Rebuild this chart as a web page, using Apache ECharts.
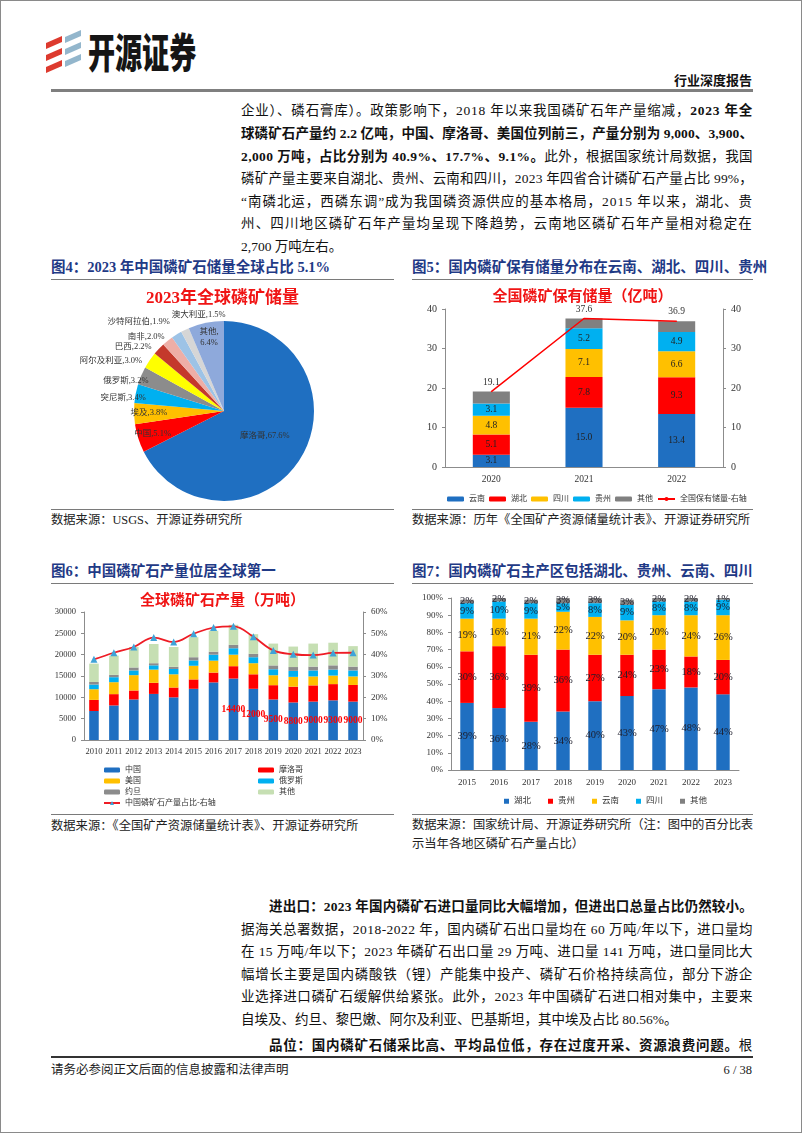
<!DOCTYPE html>
<html><head><meta charset="utf-8">
<script src="https://cdn.jsdelivr.net/npm/echarts@6/dist/echarts.min.js"></script>
<style>
html,body{margin:0;padding:0;background:#fff;}
#page{position:relative;width:802px;height:1133px;box-sizing:border-box;border:1px solid #8a8a8a;overflow:hidden;font-family:"Liberation Serif","Noto Sans CJK SC",serif;color:#111;background:#fff;}
.ln{position:absolute;left:240px;width:512px;height:20px;line-height:20px;font-size:13.5px;white-space:nowrap;}
.ln span{display:inline-block;}
.ftitle{position:absolute;font-size:14.5px;font-weight:bold;color:#1F3A86;white-space:nowrap;line-height:18px;}
.rule{position:absolute;height:1px;background:#7a7a7a;}
.src{position:absolute;font-size:12.3px;color:#222;white-space:nowrap;line-height:18px;}
.src span{display:inline-block;}
.chart{position:absolute;}
</style></head>
<body>
<div id="page">
  <svg class="chart" style="left:43px;top:26px" width="40" height="48">
    <g fill="#DD3A2E">
      <polygon points="2,16 18,9 18,15 2,22"/>
      <polygon points="2,28 18,21 18,27 2,34"/>
      <polygon points="2,40 18,33 18,39 2,46"/>
    </g>
    <g fill="#93B6CC">
      <polygon points="21,10 37,3 37,9 21,16"/>
      <polygon points="21,22 37,15 37,21 21,28"/>
      <polygon points="21,34 37,27 37,33 21,40"/>
    </g>
  </svg>
  <div style="position:absolute;left:87px;top:24px;font-family:'Noto Sans CJK SC';font-weight:900;font-size:41px;line-height:50px;color:#151515;transform:scaleX(0.66);transform-origin:0 50%;white-space:nowrap;">开源证券</div>
  <div style="position:absolute;right:49px;top:71px;font-family:'Noto Sans CJK SC';font-weight:bold;font-size:13px;line-height:16px;color:#111;">行业深度报告</div>
  <div style="position:absolute;left:50px;width:702px;top:88px;height:3px;background:#7f7f7f;"></div>

  <div class="ln j" style="top:100px"><span>企业）、磷石膏库）。政策影响下，2018 年以来我国磷矿石年产量缩减，<b>2023 年全</b></span></div>
  <div class="ln j" style="top:123px"><span><b>球磷矿石产量约 2.2 亿吨，中国、摩洛哥、美国位列前三，产量分别为 9,000、3,900、</b></span></div>
  <div class="ln j" style="top:146px"><span><b>2,000 万吨，占比分别为 40.9%、17.7%、9.1%。</b>此外，根据国家统计局数据，我国</span></div>
  <div class="ln j" style="top:168px"><span>磷矿产量主要来自湖北、贵州、云南和四川，2023 年四省合计磷矿石产量占比 99%，</span></div>
  <div class="ln j" style="top:191px"><span>“南磷北运，西磷东调”成为我国磷资源供应的基本格局，2015 年以来，湖北、贵</span></div>
  <div class="ln j" style="top:213px"><span>州、四川地区磷矿石年产量均呈现下降趋势，云南地区磷矿石年产量相对稳定在</span></div>
  <div class="ln" style="top:236px"><span>2,700 万吨左右。</span></div>

  <div class="ftitle" style="left:50px;top:257px">图4：2023 年中国磷矿石储量全球占比 5.1%</div>
  <div class="ftitle" style="left:411px;top:257px">图5：国内磷矿保有储量分布在云南、湖北、四川、贵州</div>
  <div class="rule" style="left:50px;width:343px;top:278px"></div>
  <div class="rule" style="left:411px;width:341px;top:278px"></div>
  <div id="c4" class="chart" style="left:50px;top:282px;width:343px;height:224px"></div>
  <div id="c5" class="chart" style="left:411px;top:282px;width:341px;height:224px"></div>
  <div class="rule" style="left:50px;width:343px;top:508px"></div>
  <div class="rule" style="left:411px;width:341px;top:508px"></div>
  <div class="src" style="left:50px;top:510px">数据来源：USGS、开源证券研究所</div>
  <div class="src" style="left:411px;top:510px">数据来源：历年《全国矿产资源储量统计表》、开源证券研究所</div>

  <div class="ftitle" style="left:50px;top:561px">图6：中国磷矿石产量位居全球第一</div>
  <div class="ftitle" style="left:411px;top:561px">图7：国内磷矿石主产区包括湖北、贵州、云南、四川</div>
  <div class="rule" style="left:50px;width:343px;top:582px"></div>
  <div class="rule" style="left:411px;width:341px;top:582px"></div>
  <div id="c6" class="chart" style="left:50px;top:586px;width:343px;height:226px"></div>
  <div id="c7" class="chart" style="left:411px;top:586px;width:341px;height:226px"></div>
  <div class="rule" style="left:50px;width:343px;top:813px"></div>
  <div class="rule" style="left:411px;width:341px;top:813px"></div>
  <div class="src" style="left:50px;top:816px">数据来源：《全国矿产资源储量统计表》、开源证券研究所</div>
  <div class="src jw" style="left:411px;top:815px;width:341px"><span>数据来源：国家统计局、开源证券研究所（注：图中的百分比表</span></div>
  <div class="src" style="left:411px;top:834px">示当年各地区磷矿石产量占比）</div>

  <div class="ln j" style="top:896px;left:268px;width:484px"><span><b>进出口：2023 年国内磷矿石进口量同比大幅增加，但进出口总量占比仍然较小。</b></span></div>
  <div class="ln j" style="top:919px"><span>据海关总署数据，2018-2022 年，国内磷矿石出口量均在 60 万吨/年以下，进口量均</span></div>
  <div class="ln j" style="top:941px"><span>在 15 万吨/年以下；2023 年磷矿石出口量 29 万吨、进口量 141 万吨，进口量同比大</span></div>
  <div class="ln j" style="top:964px"><span>幅增长主要是国内磷酸铁（锂）产能集中投产、磷矿石价格持续高位，部分下游企</span></div>
  <div class="ln j" style="top:986px"><span>业选择进口磷矿石缓解供给紧张。此外，2023 年中国磷矿石进口相对集中，主要来</span></div>
  <div class="ln" style="top:1009px"><span>自埃及、约旦、黎巴嫩、阿尔及利亚、巴基斯坦，其中埃及占比 80.56%。</span></div>
  <div class="ln j" style="top:1035px;left:268px;width:484px"><span><b>品位：国内磷矿石储采比高、平均品位低，存在过度开采、资源浪费问题。</b>根</span></div>

  <div style="position:absolute;left:50px;width:702px;top:1055px;height:2px;background:#333;"></div>
  <div class="src" style="left:50px;top:1060px;font-size:12.5px">请务必参阅正文后面的信息披露和法律声明</div>
  <div class="src" style="right:49px;top:1060px;font-size:12.5px">6 / 38</div>
</div>
<script>
// ---------- Figure 4 data ----------
const pieNames = ['摩洛哥','中国','埃及','突尼斯','俄罗斯','阿尔及利亚','巴西','南非','沙特阿拉伯','澳大利亚','其他'];
const pieShares = [67.6,5.1,3.8,3.4,3.2,3.0,2.2,2.0,1.9,1.5,6.4];
// ---------- Figure 5 data ----------
const resYears = ['2020','2021','2022'];
const resYunnan = [3.1,15.0,13.4];
const resHubei = [5.1,7.8,9.3];
const resSichuan = [4.8,7.1,6.6];
const resGuizhou = [3.1,5.2,4.9];
const resOther = [3.0,2.5,2.7];
const resTotal = [19.1,37.6,36.9];
// ---------- Figure 6 data ----------
const prodYears = ['2010','2011','2012','2013','2014','2015','2016','2017','2018','2019','2020','2021','2022','2023'];
const prodChina = [6800,8100,9500,10800,10000,12000,13500,14400,12000,9500,8800,9000,9300,9000];
const prodMorocco = [2600,2650,2100,2600,2300,2200,2300,2900,3400,3350,3700,3800,3800,3900];
const prodUSA = [2500,2800,3600,3100,3100,3200,2800,2700,2600,2330,2300,2100,2000,2000];
const prodRussia = [1100,1170,1100,1000,1250,1250,1400,1500,1400,1400,1400,1400,1400,1400];
const prodJordan = [600,550,700,500,500,750,700,800,800,900,900,900,1000,900];
const prodOther = [4300,4520,4800,4500,4650,4700,4900,4700,4600,5120,4800,5400,5300,4800];
const prodShare = [37.8,40.9,43.6,48.0,45.9,49.8,52.7,53.3,48.4,42.0,40.2,39.8,40.8,40.9];
const prodLabelYears = ['2017','2018','2019','2020','2021','2022','2023'];
// ---------- Figure 7 data ----------
const shareYears = ['2015','2016','2017','2018','2019','2020','2021','2022','2023'];
const shareHubei = [39,36,28,34,40,43,47,48,44];
const shareGuizhou = [30,36,39,36,27,24,23,18,20];
const shareYunnan = [19,16,21,22,22,20,20,24,26];
const shareSichuan = [9,10,9,5,8,9,8,8,9];
const shareOther = [2,2,2,3,3,3,2,2,1];

// ---------- styles ----------
const FF = '"Liberation Serif","Noto Sans CJK SC",serif';
const BLUE='#1F6FC1', RED='#FF0000', ORANGE='#FFC000', CYAN='#00B0F0', GRAY='#808080';
const pieColors = ['#1F6FC1','#FF0000','#FFC000','#00B0F0','#8C8C8C','#FFFF00','#C4392C','#EEAEA6','#9DC3E6','#D6D6D6','#8EA9DB'];
const pieLabelMode = ['in','ring','ring','out','out','out','out','out','out','out','ring'];
const pieLabelNudge = [[0,0],[0,0],[0,0],[18,5],[15,6],[0,2],[0,0],[4,-2],[0,-10],[47,-12],[0,0]];
const axisLineStyle = {show:true, lineStyle:{color:'#8c8c8c', width:1}};
const axisLab = (fs, fmt) => ({color:'#333', fontSize:fs, fontFamily:FF, formatter:fmt || (v=>String(v))});

function pieLabelText(i){
  const v = pieShares[i].toFixed(1)+'%';
  return pieNames[i] === '其他' ? pieNames[i]+',\n'+v : pieNames[i]+','+v;
}

// Figure 4
const c4 = echarts.init(document.getElementById('c4'));
c4.setOption({
  animation:false,
  textStyle:{fontFamily:FF},
  title:{text:'2023年全球磷矿储量', left:'center', top:2, textStyle:{color:'#F01414', fontSize:17, fontWeight:'bold', fontFamily:FF}},
  series:[
    {type:'pie', center:[173,128], radius:90, startAngle:90, clockwise:true, avoidLabelOverlap:false,
     labelLine:{show:false, length:3, length2:0},
     labelLayout: p => ({dx: pieLabelNudge[p.dataIndex][0], dy: pieLabelNudge[p.dataIndex][1], hideOverlap:false}),
     data: pieNames.map((n,i)=>({name:n, value:pieShares[i], itemStyle:{color:pieColors[i]},
       label:{show: pieLabelMode[i]!=='ring', position: pieLabelMode[i]==='in'?'inside':'outside',
              formatter: ()=>pieLabelText(i), color:'#333', fontSize:8.5, fontFamily:FF}}))
    },
    {type:'pie', center:[173,128], radius:[52,92], startAngle:90, clockwise:true, silent:true, avoidLabelOverlap:false,
     labelLine:{show:false},
     labelLayout: {hideOverlap:false},
     data: pieNames.map((n,i)=>({name:n, value:pieShares[i], itemStyle:{color:'rgba(0,0,0,0)'},
       label:{show: pieLabelMode[i]==='ring', position:'inside', formatter: ()=>pieLabelText(i), color:'#333', fontSize:8.5, fontFamily:FF, lineHeight:11}}))
    }
  ]
});

// Figure 5
const c5 = echarts.init(document.getElementById('c5'));
const barLab5 = {show:true, position:'inside', color:'#222', fontSize:9.5, fontFamily:FF, formatter:p=>Number(p.value).toFixed(1)};
c5.setOption({
  animation:false,
  textStyle:{fontFamily:FF},
  title:{text:'全国磷矿保有储量（亿吨）', left:'center', top:2, textStyle:{color:'#F01414', fontSize:15, fontWeight:'bold', fontFamily:FF}},
  grid:{left:33, right:30, top:26, bottom:40, outerBoundsMode:'none'},
  legend:{left:30, top:207, width:330, itemWidth:17, itemHeight:5, itemGap:4, textStyle:{fontSize:8, color:'#333', fontFamily:FF},
    data:['云南','湖北','四川','贵州','其他','全国保有储量-右轴']},
  xAxis:{type:'category', data:resYears, axisLine:axisLineStyle, axisTick:{show:false}, axisLabel:axisLab(9.5)},
  yAxis:[
    {type:'value', min:0, max:40, interval:10, splitLine:{show:false}, axisLine:axisLineStyle, axisTick:{show:true, length:3, lineStyle:{color:'#8c8c8c'}}, axisLabel:axisLab(10)},
    {type:'value', min:0, max:40, interval:10, splitLine:{show:false}, axisLine:axisLineStyle, axisTick:{show:true, length:3, lineStyle:{color:'#8c8c8c'}}, axisLabel:axisLab(10)}
  ],
  series:[
    {name:'云南', type:'bar', stack:'r', barWidth:'40%', data:resYunnan, itemStyle:{color:BLUE}, label:barLab5},
    {name:'湖北', type:'bar', stack:'r', data:resHubei, itemStyle:{color:RED}, label:barLab5},
    {name:'四川', type:'bar', stack:'r', data:resSichuan, itemStyle:{color:ORANGE}, label:barLab5},
    {name:'贵州', type:'bar', stack:'r', data:resGuizhou, itemStyle:{color:CYAN}, label:barLab5},
    {name:'其他', type:'bar', stack:'r', data:resOther, itemStyle:{color:GRAY}},
    {name:'全国保有储量-右轴', type:'line', yAxisIndex:1, data:resTotal, symbol:'circle', symbolSize:1, showSymbol:true, z:5,
     itemStyle:{color:RED}, lineStyle:{color:RED, width:1.5},
     label:{show:true, position:'top', distance:4, color:'#333', fontSize:9.5, fontFamily:FF, formatter:p=>Number(p.value).toFixed(1)}}
  ]
});

// Figure 6
const c6 = echarts.init(document.getElementById('c6'));
c6.setOption({
  animation:false,
  textStyle:{fontFamily:FF},
  title:{text:'全球磷矿石产量（万吨）', left:'center', top:2, textStyle:{color:'#F01414', fontSize:15, fontWeight:'bold', fontFamily:FF}},
  grid:{left:33, right:31, top:25, bottom:73, outerBoundsMode:'none'},
  legend:[
    {left:47, top:174, orient:'vertical', itemWidth:16, itemHeight:5, itemGap:3, textStyle:{fontSize:8, color:'#333', fontFamily:FF}, data:['中国','美国','约旦','中国磷矿石产量占比-右轴']},
    {left:202, top:174, orient:'vertical', itemWidth:16, itemHeight:5, itemGap:3, textStyle:{fontSize:8, color:'#333', fontFamily:FF}, data:['摩洛哥','俄罗斯','其他']}
  ],
  xAxis:{type:'category', data:prodYears, axisLine:axisLineStyle, axisTick:{show:false}, axisLabel:Object.assign(axisLab(8.5), {interval:0})},
  yAxis:[
    {type:'value', min:0, max:30000, interval:5000, splitLine:{show:false}, axisLine:axisLineStyle, axisTick:{show:true, length:3, lineStyle:{color:'#8c8c8c'}}, axisLabel:axisLab(8.5)},
    {type:'value', min:0, max:60, interval:10, splitLine:{show:false}, axisLine:axisLineStyle, axisTick:{show:true, length:3, lineStyle:{color:'#8c8c8c'}}, axisLabel:axisLab(9, '{value}%')}
  ],
  series:[
    {name:'中国', type:'bar', stack:'p', barWidth:'48%', itemStyle:{color:BLUE},
     data: prodChina.map((v,i)=>({value:v, label:{show: prodLabelYears.includes(prodYears[i])}})),
     label:{position:'inside', color:'#FF0000', fontWeight:'bold', fontSize:9.5, fontFamily:FF}},
    {name:'摩洛哥', type:'bar', stack:'p', data:prodMorocco, itemStyle:{color:RED}},
    {name:'美国', type:'bar', stack:'p', data:prodUSA, itemStyle:{color:ORANGE}},
    {name:'俄罗斯', type:'bar', stack:'p', data:prodRussia, itemStyle:{color:CYAN}},
    {name:'约旦', type:'bar', stack:'p', data:prodJordan, itemStyle:{color:'#8C8C8C'}},
    {name:'其他', type:'bar', stack:'p', data:prodOther, itemStyle:{color:'#C6DFB3'}},
    {name:'中国磷矿石产量占比-右轴', type:'line', yAxisIndex:1, data:prodShare, smooth:0.4, symbol:'triangle', symbolSize:7,
     itemStyle:{color:'#3FA3D8'}, lineStyle:{color:'#EE1C25', width:1.8}}
  ]
});

// Figure 7
const c7 = echarts.init(document.getElementById('c7'));
const barLab7 = {show:true, position:'inside', color:'#1d1d2b', fontSize:10.5, fontFamily:FF, formatter:'{c}%'};
c7.setOption({
  animation:false,
  textStyle:{fontFamily:FF},
  grid:{left:39, right:14, top:11, bottom:43, outerBoundsMode:'none'},
  legend:{left:87, top:205, icon:'rect', itemWidth:5, itemHeight:5, itemGap:17, textStyle:{fontSize:8.5, color:'#333', fontFamily:FF},
    data:['湖北','贵州','云南','四川','其他']},
  xAxis:{type:'category', data:shareYears, axisLine:axisLineStyle, axisTick:{show:false}, axisLabel:axisLab(9)},
  yAxis:{type:'value', min:0, max:100, interval:10, splitLine:{show:false}, axisLine:axisLineStyle, axisTick:{show:true, length:3, lineStyle:{color:'#8c8c8c'}}, axisLabel:axisLab(9, '{value}%')},
  series:[
    {name:'湖北', type:'bar', stack:'s', barWidth:'42%', data:shareHubei, itemStyle:{color:BLUE}, label:barLab7},
    {name:'贵州', type:'bar', stack:'s', data:shareGuizhou, itemStyle:{color:RED}, label:barLab7},
    {name:'云南', type:'bar', stack:'s', data:shareYunnan, itemStyle:{color:ORANGE}, label:barLab7},
    {name:'四川', type:'bar', stack:'s', data:shareSichuan, itemStyle:{color:CYAN}, label:barLab7},
    {name:'其他', type:'bar', stack:'s', data:shareOther, itemStyle:{color:GRAY}, label:barLab7}
  ]
});

// justify text lines by letter-spacing
function justify(){
  document.querySelectorAll('.j, .jw').forEach(el=>{
    const sp = el.querySelector('span');
    sp.style.letterSpacing = '0px';
    const W = el.clientWidth || parseFloat(getComputedStyle(el).width);
    const w = sp.getBoundingClientRect().width;
    const n = sp.textContent.length;
    sp.style.letterSpacing = ((W - w) / n) + 'px';
  });
}
justify();
if (document.fonts && document.fonts.ready) document.fonts.ready.then(justify);
</script>
</body></html>
